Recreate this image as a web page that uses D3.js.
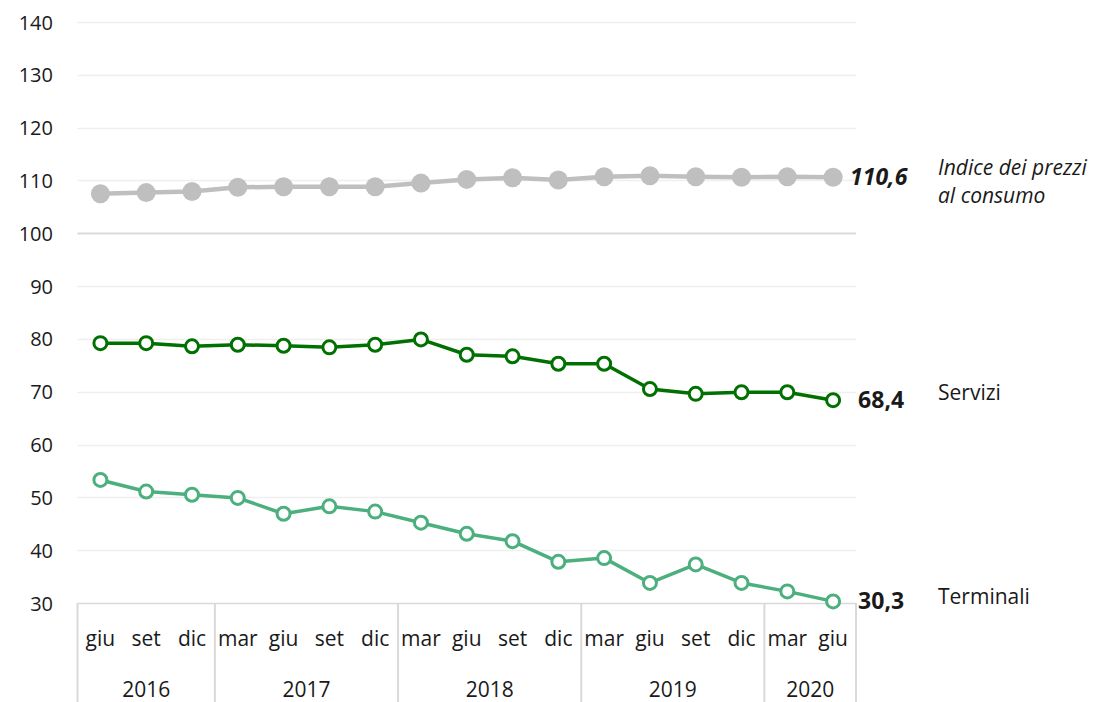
<!DOCTYPE html>
<html>
<head>
<meta charset="utf-8">
<script src="https://cdn.jsdelivr.net/npm/d3@7"></script>
<style>
  html, body { margin: 0; padding: 0; background: #ffffff; }
  svg { display: block; }
  text { font-family: "Open Sans", "Noto Sans", sans-serif; fill: #1a1a1a; }
</style>
</head>
<body>
<svg id="chart" width="1099" height="702"></svg>
<script>
// Months (quarterly observations) and the year each one belongs to
const months = ["giu","set","dic","mar","giu","set","dic","mar","giu","set","dic","mar","giu","set","dic","mar","giu"];
const years  = ["2016","2016","2016","2017","2017","2017","2017","2018","2018","2018","2018","2019","2019","2019","2019","2020","2020"];
const yearGroups = ["2016","2017","2018","2019","2020"];

// Index values
const indicePrezzi = [107.5,107.7,107.9,108.7,108.8,108.8,108.8,109.5,110.2,110.5,110.1,110.7,110.9,110.7,110.6,110.7,110.6];
const servizi      = [79.2,79.2,78.6,78.9,78.7,78.4,78.9,79.9,77.0,76.7,75.3,75.3,70.5,69.6,69.9,69.9,68.4];
const terminali    = [53.3,51.1,50.5,49.9,46.9,48.3,47.3,45.2,43.1,41.7,37.8,38.5,33.8,37.3,33.8,32.2,30.3];

const yTicks = [30,40,50,60,70,80,90,100,110,120,130,140];

const svg = d3.select("#chart");
const plotLeft = 77.5, plotRight = 856, plotTop = 22, plotBottom = 603;

const keys = d3.range(months.length);
const x = d3.scaleBand().domain(keys).range([plotLeft, plotRight]).paddingInner(0).paddingOuter(0);
const y = d3.scaleLinear().domain([30, 140]).range([plotBottom, plotTop]);
const cx = i => x(i) + x.bandwidth() / 2;

// Horizontal gridlines
svg.append("g").selectAll("line").data(yTicks).join("line")
  .attr("x1", plotLeft).attr("x2", plotRight)
  .attr("y1", d => Math.round(y(d)) + 0.5).attr("y2", d => Math.round(y(d)) + 0.5)
  .attr("stroke", d => (d === 100 || d === 30) ? "#d9d9d9" : "#efefef")
  .attr("stroke-width", d => d === 100 ? 2 : 1.5);

// Y axis labels
const yAxis = d3.axisLeft(y).tickValues(yTicks).tickSize(0).tickPadding(0).tickFormat(d3.format("d"));
const gy = svg.append("g").attr("transform", "translate(53,0)").call(yAxis);
gy.select(".domain").remove();
gy.selectAll("text").attr("font-size", 20).attr("fill", "#1a1a1a")
  .style("font-family", "'Open Sans', sans-serif").attr("dy", "0.35em");

// Two-level category axis: month labels and year groups
const xAxis = d3.axisBottom(x).tickSize(0).tickPadding(0).tickFormat(i => months[i]);
const gx = svg.append("g").attr("transform", `translate(0,${plotBottom})`).call(xAxis);
gx.select(".domain").remove();
gx.selectAll("text").attr("font-size", 21).attr("fill", "#1a1a1a")
  .style("font-family", "'Open Sans', sans-serif").attr("y", 36).attr("dy", "0.35em");

const groups = yearGroups.map(yr => {
  const idx = keys.filter(i => years[i] === yr);
  return { yr, x0: x(idx[0]), x1: x(idx[idx.length - 1]) + x.bandwidth() };
});
const boundaries = [groups[0].x0, ...groups.map(g => g.x1)];
svg.append("g").selectAll("line").data(boundaries).join("line")
  .attr("x1", d => d).attr("x2", d => d)
  .attr("y1", plotBottom).attr("y2", 702)
  .attr("stroke", "#d9d9d9").attr("stroke-width", 2);
svg.append("g").selectAll("text").data(groups).join("text")
  .attr("x", g => (g.x0 + g.x1) / 2).attr("y", plotBottom + 87).attr("dy", "0.35em")
  .attr("text-anchor", "middle").attr("font-size", 21)
  .text(g => g.yr);

const line = d3.line().x((d, i) => cx(i)).y(d => y(d));

const series = [
  { name: ["Indice dei prezzi", "al consumo"], values: indicePrezzi, color: "#bfbfbf", filled: true,
    lw: 4.5, r: 9.5, italic: true, dx: 17, nameDy: [-10, 18] },
  { name: ["Servizi"], values: servizi, color: "#007000", filled: false,
    lw: 3.5, r: 6.5, italic: false, dx: 25, nameDy: [-8] },
  { name: ["Terminali"], values: terminali, color: "#4caf7e", filled: false,
    lw: 3.5, r: 6.5, italic: false, dx: 25, nameDy: [-5] }
];

series.forEach(s => {
  const g = svg.append("g");
  g.append("path").datum(s.values)
    .attr("d", line).attr("fill", "none")
    .attr("stroke", s.color).attr("stroke-width", s.lw).attr("stroke-linejoin", "round");
  g.selectAll("circle").data(s.values).join("circle")
    .attr("cx", (d, i) => cx(i)).attr("cy", d => y(d)).attr("r", s.r)
    .attr("fill", s.filled ? s.color : "#ffffff")
    .attr("stroke", s.filled ? "none" : s.color)
    .attr("stroke-width", s.filled ? 0 : 3);

  const last = s.values.length - 1;
  const lv = s.values[last];
  g.append("text")
    .attr("x", cx(last) + s.dx).attr("y", y(lv)).attr("dy", "0.35em")
    .attr("font-size", 23).attr("font-weight", "bold")
    .attr("font-style", s.italic ? "italic" : "normal")
    .attr("fill", "#000")
    .text(d3.format(".1f")(lv).replace(".", ","));

  s.name.forEach((t, k) => {
    g.append("text")
      .attr("x", 938).attr("y", y(lv) + s.nameDy[k]).attr("dy", "0.35em")
      .attr("font-size", 21)
      .attr("font-style", s.italic ? "italic" : "normal")
      .text(t);
  });
});
</script>
</body>
</html>
